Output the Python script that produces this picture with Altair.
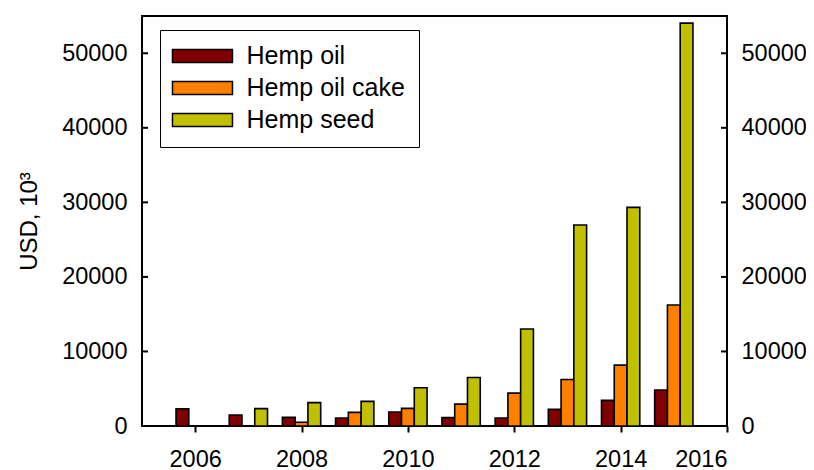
import altair as alt
import pandas as pd

years = [2006, 2007, 2008, 2009, 2010, 2011, 2012, 2013, 2014, 2015]
hemp_oil = [2300, 1470, 1160, 1070, 1870, 1120, 1070, 2230, 3440, 4820]
hemp_oil_cake = [None, None, 495, 1830, 2370, 2940, 4410, 6240, 8160, 16230]
hemp_seed = [None, 2330, 3130, 3300, 5130, 6510, 13020, 26960, 29330, 54050]

series = ["Hemp oil", "Hemp oil cake", "Hemp seed"]
colors = ["#800000", "#FF8000", "#C0C000"]
y_ticks = [0, 10000, 20000, 30000, 40000, 50000]
x_ticks = [2006, 2008, 2010, 2012, 2014, 2016]

rows = []
for i, (name, vals) in enumerate(zip(series, [hemp_oil, hemp_oil_cake, hemp_seed])):
    for yr, v in zip(years, vals):
        if v is None:
            continue
        rows.append({"year": yr, "series": name, "order": i, "value": v})
df = pd.DataFrame(rows)
tick_df = pd.DataFrame({"v": y_ticks})

W, H = 585, 410
FONT = "Liberation Sans"
LFS = 23.5

xscale = alt.Scale(domain=[2005, 2016], nice=False, zero=False)
yscale = alt.Scale(domain=[0, 55000], nice=False)


def make_legend(with_sw):
    kw = dict(
        title=None, orient="none", legendX=18, legendY=14,
        symbolType="M-2.08,-1L7.15,-1L7.15,1L-2.08,1Z", symbolSize=169,
        symbolStrokeColor="black", symbolStrokeWidth=1.5, symbolOpacity=1,
        labelFont=FONT, labelFontSize=25, labelColor="black", labelOffset=48,
        padding=13.5, rowPadding=6, strokeColor="black", fillColor="white",
        cornerRadius=0,
    )
    if with_sw:
        kw["strokeWidth"] = 2
    return alt.Legend(**kw)


def build(with_sw):
    bars = alt.Chart(df).transform_calculate(
        x0="datum.year + (datum.order - 1.5) * 0.24",
        x1="datum.year + (datum.order - 0.5) * 0.24",
    ).mark_bar(stroke="black", strokeWidth=1.6, opacity=1).encode(
        x=alt.X("x0:Q", scale=xscale,
                axis=alt.Axis(values=x_ticks, format="d", title=None, tickSize=6,
                              tickWidth=2, tickColor="black", labelPadding=15,
                              domain=False, grid=False, labelFont=FONT,
                              labelFontSize=LFS, labelColor="black")),
        x2="x1:Q",
        y=alt.Y("value:Q", scale=yscale, axis=None),
        y2=alt.datum(0),
        fill=alt.Fill("series:N", scale=alt.Scale(domain=series, range=colors),
                      legend=make_legend(with_sw)),
    )

    left_ticks = alt.Chart(tick_df).mark_rule(color="black", strokeWidth=2).encode(
        y=alt.Y("v:Q", scale=yscale,
                axis=alt.Axis(orient="left", values=y_ticks, format="d",
                              title="USD, 10³", ticks=False, tickSize=0,
                              labelPadding=15, domain=False, grid=False,
                              labelFont=FONT, labelFontSize=LFS, labelColor="black",
                              titleFont=FONT, titleFontSize=24,
                              titleFontWeight="normal", titleColor="black",
                              titlePadding=20)),
        x=alt.value(0), x2=alt.value(6),
    )
    right_ticks = alt.Chart(tick_df).mark_rule(color="black", strokeWidth=2).encode(
        y=alt.Y("v:Q", scale=yscale,
                axis=alt.Axis(orient="right", values=y_ticks, format="d",
                              title=None, ticks=False, tickSize=0,
                              labelPadding=14, domain=False, grid=False,
                              labelFont=FONT, labelFontSize=LFS, labelColor="black")),
        x=alt.value(W - 6), x2=alt.value(W),
    )

    chart = alt.layer(bars, left_ticks, right_ticks).resolve_axis(
        y="independent"
    ).properties(
        width=W, height=H,
        autosize=alt.AutoSizeParams(type="none"),
        padding={"left": 134, "top": 8, "right": 79, "bottom": 44},
    ).configure_view(
        stroke="black", strokeWidth=2
    )
    return chart


try:
    chart = build(True)
    chart.to_dict()
except Exception:
    chart = build(False)

chart.save("out.html", embed_options={"renderer": "svg", "actions": False})
